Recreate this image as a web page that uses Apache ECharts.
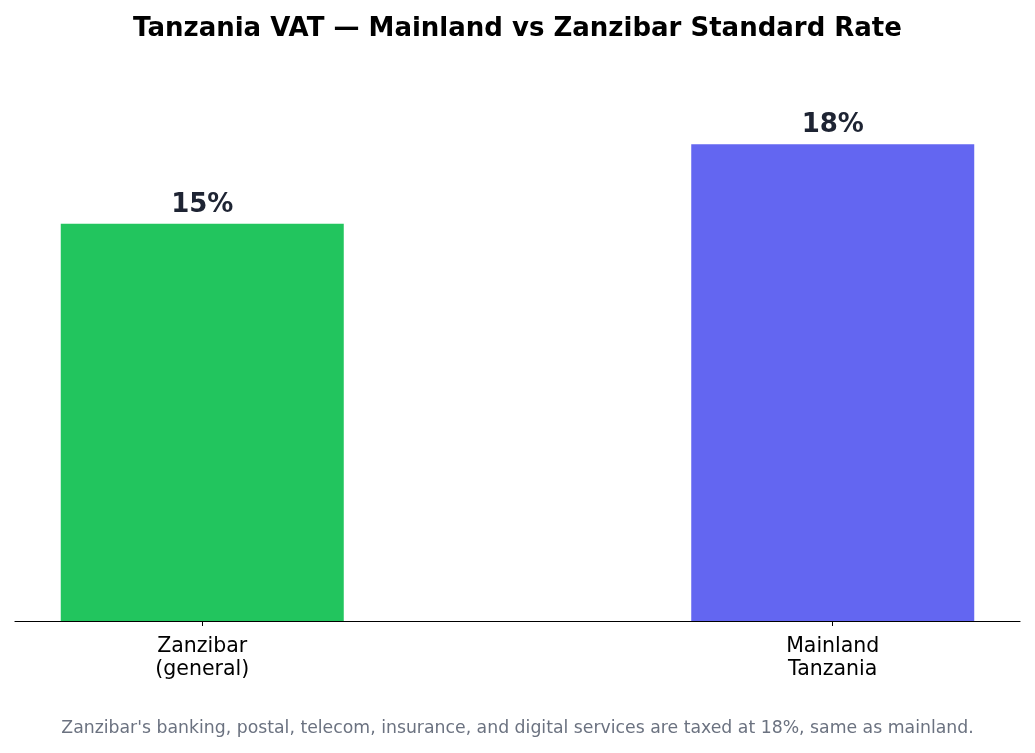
<!DOCTYPE html>
<html>
<head>
<meta charset="utf-8">
<script src="https://cdn.jsdelivr.net/npm/echarts@6/dist/echarts.min.js"></script>
<style>
  html, body { margin: 0; padding: 0; background: #fff; }
  #chart { width: 1035px; height: 753px; }
</style>
</head>
<body>
<div id="chart"></div>
<script>
const categories = ['Zanzibar\n(general)', 'Mainland\nTanzania']
const rates = [15, 18]
const barColors = ['#22c55e', '#6366f1']

const chart = echarts.init(document.getElementById('chart'))
const font = 'DejaVu Sans'

chart.setOption({
  animation: false,
  title: {
    text: 'Tanzania VAT — Mainland vs Zanzibar Standard Rate',
    left: 'center',
    top: 11,
    textStyle: { fontFamily: font, fontSize: 26, fontWeight: 'bold', color: '#000' },
  },
  graphic: [{
    type: 'text',
    left: 'center',
    top: 720,
    style: {
      text: "Zanzibar's banking, postal, telecom, insurance, and digital services are taxed at 18%, same as mainland.",
      fontFamily: font,
      fontSize: 17.3,
      fill: '#6b7280',
    },
  }],
  grid: { left: 15, right: 15, top: 49, bottom: 132 },
  xAxis: {
    type: 'value',
    min: -0.297,
    max: 1.297,
    splitLine: { show: false },
    axisLine: { show: true, onZero: false, lineStyle: { color: '#000', width: 1.2 } },
    axisTick: { show: true, customValues: [0, 1], length: 5, lineStyle: { color: '#000' } },
    axisLabel: {
      customValues: [0, 1],
      formatter: (v) => categories[Math.round(v)],
      fontFamily: font,
      fontSize: 20.5,
      lineHeight: 23,
      color: '#000',
      margin: 14,
    },
  },
  yAxis: {
    type: 'value',
    min: 0,
    max: 21.6,
    show: false,
  },
  series: [{
    type: 'bar',
    barWidth: 283,
    data: rates.map((r, i) => ({ value: [i, r], itemStyle: { color: barColors[i] } })),
    label: {
      show: true,
      position: 'top',
      distance: 6,
      formatter: (p) => p.value[1] + '%',
      fontFamily: font,
      fontSize: 26,
      fontWeight: 'bold',
      color: '#1e2433',
    },
  }],
})
</script>
</body>
</html>
